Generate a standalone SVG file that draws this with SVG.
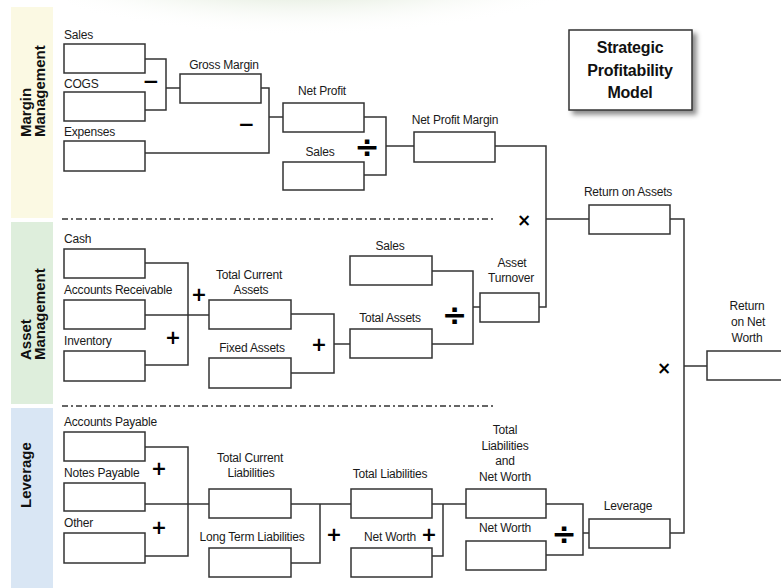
<svg xmlns="http://www.w3.org/2000/svg" width="781" height="588" viewBox="0 0 781 588">
<style>
.b{fill:#fff;stroke:#333;stroke-width:1.5}
.c{fill:none;stroke:#333;stroke-width:1.5}
.d{fill:none;stroke:#333;stroke-width:1.3;stroke-dasharray:6 3 2 3}
.t{font-family:"Liberation Sans",Arial,sans-serif;font-size:12px;fill:#1a1a1a;letter-spacing:-0.2px}
.m{text-anchor:middle}
.h{font-family:"Liberation Sans",Arial,sans-serif;font-size:15px;font-weight:bold;fill:#111}
.s{font-family:"Liberation Sans",Arial,sans-serif;font-size:16px;font-weight:bold;fill:#111;text-anchor:middle;letter-spacing:-0.2px}
.o{font-family:"DejaVu Sans",sans-serif;font-weight:bold;fill:#000;text-anchor:middle;dominant-baseline:central}
</style>
<defs>
<radialGradient id="sw" cx="0.45" cy="0.25" r="0.6">
<stop offset="0" stop-color="#dde8d5"/>
<stop offset="0.55" stop-color="#e9f0e4"/>
<stop offset="1" stop-color="#ffffff" stop-opacity="0"/>
</radialGradient>
<filter id="sh" x="-20%" y="-20%" width="150%" height="150%">
<feDropShadow dx="4" dy="4" stdDeviation="2.5" flood-color="#000" flood-opacity="0.45"/>
</filter>
</defs>
<rect width="781" height="588" fill="#fff"/>
<ellipse cx="330" cy="-15" rx="270" ry="72" fill="url(#sw)"/>

<g id="bands">
<rect x="11" y="7" width="42" height="211" fill="#fbf9e3"/>
<rect x="11" y="222" width="42" height="182" fill="#deeedc"/>
<rect x="11" y="408" width="42" height="180" fill="#d9e6f4"/>
<text class="h" transform="translate(31,137) rotate(-90)">Margin</text>
<text class="h" transform="translate(45,137) rotate(-90)">Management</text>
<text class="h" transform="translate(31,360) rotate(-90)">Asset</text>
<text class="h" transform="translate(45,360) rotate(-90)">Management</text>
<text class="h" transform="translate(31,508) rotate(-90)">Leverage</text>
</g>

<g id="dividers">
<line class="d" x1="62" y1="219" x2="493" y2="219"/>
<line class="d" x1="62" y1="406" x2="493" y2="406"/>
</g>

<g id="title">
<rect x="569" y="30" width="123" height="80" fill="#fff" stroke="#333" stroke-width="1.5" filter="url(#sh)"/>
<text class="s" x="630" y="53">Strategic</text>
<text class="s" x="630" y="76">Profitability</text>
<text class="s" x="630" y="98">Model</text>
</g>

<g id="connectors">
<path class="c" d="M145,59 H166 V110 H145"/>
<path class="c" d="M166,88 H180"/>
<path class="c" d="M261,88 H269 V153 H145"/>
<path class="c" d="M269,117 H283"/>
<path class="c" d="M364,117 H386 V175 H364"/>
<path class="c" d="M386,146 H414"/>
<path class="c" d="M495,146 H546 V307 H539"/>
<path class="c" d="M546,219 H589"/>
<path class="c" d="M670,219 H684 V533 H670"/>
<path class="c" d="M684,366 H707"/>
<path class="c" d="M145,263 H188 V365 H145"/>
<path class="c" d="M145,315 H209"/>
<path class="c" d="M291,314 H334 V373 H291"/>
<path class="c" d="M334,344 H350"/>
<path class="c" d="M432,271 H473 V344 H432"/>
<path class="c" d="M473,307 H480"/>
<path class="c" d="M145,447 H188 V556 H145"/>
<path class="c" d="M145,504 H209"/>
<path class="c" d="M291,504 H351"/>
<path class="c" d="M320,504 V563 H291"/>
<path class="c" d="M432,504 H466"/>
<path class="c" d="M443,504 V556 H432"/>
<path class="c" d="M546,504 H583 V555 H546"/>
<path class="c" d="M583,533 H589"/>
</g>

<g id="operators">
<text class="o" x="151" y="81" font-size="20">−</text>
<text class="o" x="246.5" y="124" font-size="20">−</text>
<text class="o" x="367" y="146" font-size="30">÷</text>
<text class="o" x="524" y="220" font-size="17">×</text>
<text class="o" x="199" y="294" font-size="19">+</text>
<text class="o" x="173" y="337" font-size="19">+</text>
<text class="o" x="319" y="344" font-size="19">+</text>
<text class="o" x="454.5" y="314" font-size="30">÷</text>
<text class="o" x="664" y="368" font-size="17">×</text>
<text class="o" x="159" y="468" font-size="19">+</text>
<text class="o" x="159" y="527" font-size="19">+</text>
<text class="o" x="334" y="534" font-size="19">+</text>
<text class="o" x="429" y="534" font-size="19">+</text>
<text class="o" x="564" y="533" font-size="30">÷</text>
</g>

<g id="n-sales"><rect class="b" x="64" y="44" width="81" height="29"/><text class="t" x="64" y="39">Sales</text></g>
<g id="n-cogs"><rect class="b" x="64" y="92" width="81" height="29"/><text class="t" x="64" y="88">COGS</text></g>
<g id="n-expenses"><rect class="b" x="64" y="141" width="81" height="30"/><text class="t" x="64" y="136">Expenses</text></g>
<g id="n-gross-margin"><rect class="b" x="180" y="74" width="81" height="29"/><text class="t m" x="224" y="69">Gross Margin</text></g>
<g id="n-net-profit"><rect class="b" x="283" y="103" width="81" height="29"/><text class="t m" x="322" y="95">Net Profit</text></g>
<g id="n-sales2"><rect class="b" x="283" y="162" width="81" height="28"/><text class="t m" x="320" y="156">Sales</text></g>
<g id="n-net-profit-margin"><rect class="b" x="414" y="132" width="81" height="30"/><text class="t m" x="455" y="124">Net Profit Margin</text></g>
<g id="n-roa"><rect class="b" x="589" y="205" width="81" height="29"/><text class="t m" x="628" y="196">Return on Assets</text></g>
<g id="n-ronw"><rect class="b" x="707" y="351" width="80" height="29"/><text class="t m" x="747" y="310">Return</text><text class="t m" x="748" y="326">on Net</text><text class="t m" x="747" y="342">Worth</text></g>

<g id="n-cash"><rect class="b" x="64" y="249" width="81" height="29"/><text class="t" x="64" y="243">Cash</text></g>
<g id="n-ar"><rect class="b" x="64" y="300" width="81" height="29"/><text class="t" x="64" y="294">Accounts Receivable</text></g>
<g id="n-inventory"><rect class="b" x="64" y="351" width="81" height="30"/><text class="t" x="64" y="345">Inventory</text></g>
<g id="n-tca"><rect class="b" x="209" y="300" width="82" height="29"/><text class="t m" x="249" y="279">Total Current</text><text class="t m" x="251" y="294">Assets</text></g>
<g id="n-fixed-assets"><rect class="b" x="209" y="358" width="82" height="30"/><text class="t m" x="252" y="352">Fixed Assets</text></g>
<g id="n-sales3"><rect class="b" x="350" y="256" width="82" height="29"/><text class="t m" x="390" y="250">Sales</text></g>
<g id="n-total-assets"><rect class="b" x="350" y="329" width="82" height="29"/><text class="t m" x="390" y="322">Total Assets</text></g>
<g id="n-asset-turnover"><rect class="b" x="480" y="293" width="59" height="29"/><text class="t m" x="512" y="267">Asset</text><text class="t m" x="511" y="282">Turnover</text></g>

<g id="n-ap"><rect class="b" x="64" y="432" width="81" height="29"/><text class="t" x="64" y="426">Accounts Payable</text></g>
<g id="n-np"><rect class="b" x="64" y="483" width="81" height="28"/><text class="t" x="64" y="477">Notes Payable</text></g>
<g id="n-other"><rect class="b" x="64" y="533" width="81" height="30"/><text class="t" x="64" y="527">Other</text></g>
<g id="n-tcl"><rect class="b" x="209" y="489" width="82" height="29"/><text class="t m" x="250" y="462">Total Current</text><text class="t m" x="251" y="477">Liabilities</text></g>
<g id="n-ltl"><rect class="b" x="209" y="548" width="82" height="29"/><text class="t m" x="252" y="541">Long Term Liabilities</text></g>
<g id="n-tl"><rect class="b" x="351" y="489" width="81" height="29"/><text class="t m" x="390" y="478">Total Liabilities</text></g>
<g id="n-nw"><rect class="b" x="351" y="548" width="81" height="29"/><text class="t m" x="390" y="541">Net Worth</text></g>
<g id="n-tlnw"><rect class="b" x="466" y="489" width="80" height="29"/><text class="t m" x="505" y="434">Total</text><text class="t m" x="505" y="450">Liabilities</text><text class="t m" x="505" y="465">and</text><text class="t m" x="505" y="481">Net Worth</text></g>
<g id="n-nw2"><rect class="b" x="466" y="541" width="80" height="29"/><text class="t m" x="505" y="532">Net Worth</text></g>
<g id="n-leverage"><rect class="b" x="589" y="519" width="81" height="29"/><text class="t m" x="628" y="510">Leverage</text></g>
</svg>
